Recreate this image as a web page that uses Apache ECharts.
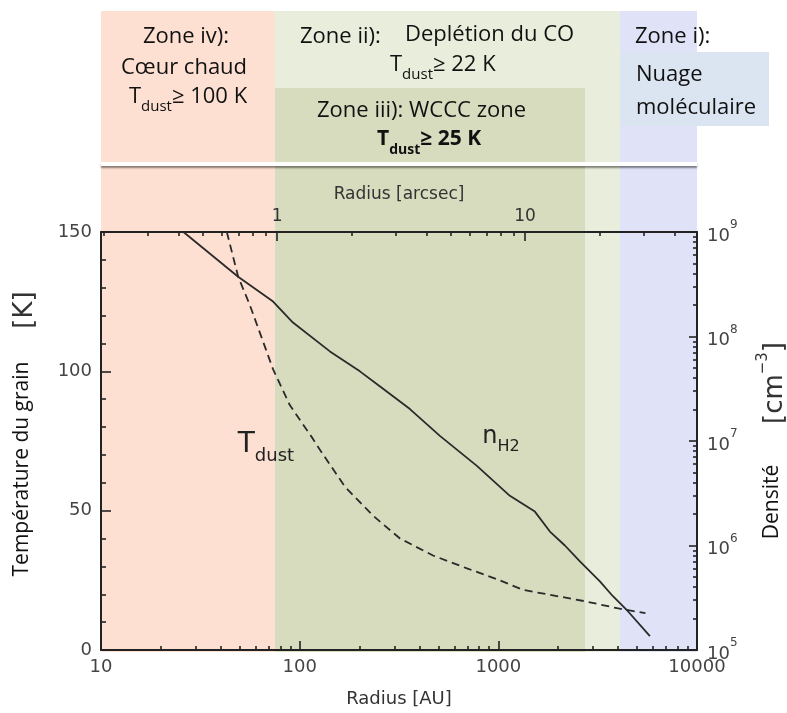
<!DOCTYPE html>
<html><head><meta charset="utf-8">
<script src="https://cdn.jsdelivr.net/npm/echarts@6/dist/echarts.min.js"></script>
<style>
html,body{margin:0;padding:0;background:#fff}
#wrap{position:relative;width:787px;height:713px}
#bg,#c{position:absolute;left:0;top:0;width:787px;height:713px}
</style>
</head><body><div id="wrap"><div id="bg"></div><div id="c"></div></div>
<script>
// ---- data ----
const radiusAU_n = [26, 49, 73.5, 92.5, 142, 201, 253, 359, 508, 780, 1143, 1527, 1818, 2163, 2574, 3245, 3773, 4489, 5794];
const nH2 = [1.0e9, 3.73e8, 2.16e8, 1.36e8, 7.2e7, 4.64e7, 3.34e7, 2.02e7, 1.12e7, 5.78e6, 2.99e6, 2.11e6, 1.36e6, 1.0e6, 7.04e5, 4.54e5, 3.27e5, 2.35e5, 1.36e5];
const radiusAU_T = [43, 49, 56, 73.5, 89, 115, 126, 169, 234, 320, 469, 695, 984, 1330, 1818, 2730, 3960, 5500];
const Tdust = [150, 134, 124, 100.7, 88, 76.4, 72, 58.6, 48.2, 40.0, 33.9, 29.3, 25.4, 21.6, 19.8, 17.5, 15.0, 13.2];
// zone boundaries in AU: iv | iii | ii | i
const zoneEdgesAU = [10, 75, 2730, 4090, 10000];
const zoneIIIheight = 0.652; // fraction of the header band covered by zone iii box
const whiteLineLevel = 0.312;
// label anchors (data coords)
const labelTdust = [67.6, 72.5];
const labelNH2 = [1030, 1.02e7];
// ticks
const auMajor = [10, 100, 1000, 10000];
const auMinor = [20,30,40,50,60,70,80,90,200,300,400,500,600,700,800,900,2000,3000,4000,5000,6000,7000,8000,9000];
const arcsecRange = [0.195, 49.4];
const arcsecMajor = [1, 10];
const arcsecMinor = [0.2,0.3,0.4,0.5,0.6,0.7,0.8,0.9,2,3,4,5,6,7,8,9,20,30,40];
const densMajor = [1e5, 1e6, 1e7, 1e8, 1e9];
const densMinor = [2e5,3e5,4e5,5e5,6e5,7e5,8e5,9e5,2e6,3e6,4e6,5e6,6e6,7e6,8e6,9e6,2e7,3e7,4e7,5e7,6e7,7e7,8e7,9e7,2e8,3e8,4e8,5e8,6e8,7e8,8e8,9e8];

const zoneColors = ['#fde0d1', '#e9eddb', '#d6dcbd', '#e0e2f7']; // iv, ii, iii, i
const colBox = '#dbe5f1';
// zone rectangles: [x0, x1, y0, y1, colourIndex]
const plotZones = [
  [zoneEdgesAU[0], zoneEdgesAU[1], 0, 150, 0],
  [zoneEdgesAU[1], zoneEdgesAU[3], 0, 150, 1],
  [zoneEdgesAU[1], zoneEdgesAU[2], 0, 150, 2],
  [zoneEdgesAU[3], zoneEdgesAU[4], 0, 150, 3]
];
const headerZones = [
  [zoneEdgesAU[0], zoneEdgesAU[1], 0, 1, 0],
  [zoneEdgesAU[1], zoneEdgesAU[3], 0, 1, 1],
  [zoneEdgesAU[1], zoneEdgesAU[2], 0, zoneIIIheight, 2],
  [zoneEdgesAU[3], zoneEdgesAU[4], 0, 1, 3]
];

const axisColor = '#222', labelColor = '#444';
const numFont = 'DejaVu Sans', textFont = 'Open Sans';
const grids = [
  { left: 101, right: 90, top: 232, bottom: 61 },
  { left: 101, right: 90, top: 11, height: 221 }
];

// ---------- background layer: the zone bands ----------
const bgChart = echarts.init(document.getElementById('bg'));
function zoneRender(params, api) {
  const p0 = api.coord([api.value(0), api.value(3)]);
  const p1 = api.coord([api.value(1), api.value(2)]);
  return { type: 'rect', shape: { x: p0[0], y: p0[1], width: p1[0] - p0[0], height: p1[1] - p0[1] },
           style: { fill: zoneColors[api.value(4)] } };
}
bgChart.setOption({
  animation: false,
  backgroundColor: '#fff',
  grid: grids,
  xAxis: [
    { gridIndex: 0, type: 'log', min: 10, max: 10000, show: false },
    { gridIndex: 1, type: 'log', min: 10, max: 10000, show: false }
  ],
  yAxis: [
    { gridIndex: 0, type: 'value', min: 0, max: 150, show: false },
    { gridIndex: 1, type: 'value', min: 0, max: 1, show: false }
  ],
  series: [
    { type: 'custom', xAxisIndex: 0, yAxisIndex: 0, silent: true, renderItem: zoneRender,
      encode: { x: [0, 1], y: [2, 3] }, data: plotZones },
    { type: 'custom', xAxisIndex: 1, yAxisIndex: 1, silent: true, renderItem: zoneRender,
      encode: { x: [0, 1], y: [2, 3] }, data: headerZones }
  ]
});

// ---------- foreground layer: axes, curves, text ----------
const chart = echarts.init(document.getElementById('c'));

function minorAxis(extra) {
  return Object.assign({
    gridIndex: 0, type: 'log',
    axisLine: { show: false, onZero: false },
    axisLabel: { show: false },
    splitLine: { show: false }
  }, extra);
}
function subText(main, sub, rest, size, bold) {
  const fw = bold ? 'bold' : 'normal';
  return {
    text: '{a|' + main + '}{s|' + sub + '}{a|' + rest + '}',
    rich: {
      a: { fontSize: size, fontFamily: textFont, fontWeight: fw, fill: '#111', lineHeight: 28, verticalAlign: 'top' },
      s: { fontSize: Math.round(size * 0.68), fontFamily: textFont, fontWeight: fw, fill: '#111', lineHeight: 16, verticalAlign: 'bottom' }
    }
  };
}
function txt(x, y, text, align, extra) {
  return { type: 'text', x: x, y: y, z: 50,
    style: Object.assign({ text: text, fill: '#111', fontSize: 22, fontFamily: textFont, align: align, verticalAlign: 'middle' }, extra || {}) };
}
function stxt(x, y, align, st) {
  return { type: 'text', x: x, y: y, z: 50,
    style: Object.assign({ align: align, verticalAlign: 'middle', fill: '#111' }, st) };
}

chart.setOption({
  animation: false,
  backgroundColor: 'transparent',
  grid: grids,
  xAxis: [
    { gridIndex: 0, type: 'log', min: 10, max: 10000, position: 'bottom',
      axisLine: { onZero: false, lineStyle: { color: axisColor, width: 2 } },
      axisTick: { show: true, inside: true, length: 9, customValues: auMajor, lineStyle: { color: axisColor, width: 1.6 } },
      axisLabel: { customValues: auMajor, formatter: v => String(Math.round(v)), color: labelColor, fontFamily: numFont, fontSize: 18, margin: 8 },
      splitLine: { show: false },
      name: 'Radius [AU]', nameLocation: 'middle', nameGap: 40,
      nameTextStyle: { color: '#333', fontFamily: numFont, fontSize: 18 } },
    minorAxis({ min: 10, max: 10000, position: 'bottom',
      axisTick: { show: true, inside: true, length: 4, customValues: auMinor, lineStyle: { color: axisColor, width: 1.6 } } }),
    { gridIndex: 0, type: 'log', min: arcsecRange[0], max: arcsecRange[1], position: 'top',
      axisLine: { onZero: false, lineStyle: { color: axisColor, width: 2 } },
      axisTick: { show: true, inside: true, length: 9, customValues: arcsecMajor, lineStyle: { color: axisColor, width: 1.6 } },
      axisLabel: { customValues: arcsecMajor, formatter: v => String(Math.round(v)), color: '#333', fontFamily: numFont, fontSize: 17, margin: 7 },
      splitLine: { show: false },
      name: 'Radius [arcsec]', nameLocation: 'middle', nameGap: 29,
      nameTextStyle: { color: '#333', fontFamily: numFont, fontSize: 17 } },
    minorAxis({ min: arcsecRange[0], max: arcsecRange[1], position: 'top',
      axisTick: { show: true, inside: true, length: 4, customValues: arcsecMinor, lineStyle: { color: axisColor, width: 1.6 } } }),
    { gridIndex: 1, type: 'log', min: 10, max: 10000, show: false }
  ],
  yAxis: [
    { gridIndex: 0, type: 'value', min: 0, max: 150, interval: 50,
      axisLine: { show: true, onZero: false, lineStyle: { color: axisColor, width: 2 } },
      axisTick: { show: true, inside: true, length: 10, lineStyle: { color: axisColor, width: 1.6 } },
      minorTick: { show: true, splitNumber: 5, length: 5, lineStyle: { color: axisColor, width: 1.6 } },
      axisLabel: { color: labelColor, fontFamily: numFont, fontSize: 18, margin: 9 },
      splitLine: { show: false } },
    { gridIndex: 0, type: 'log', min: 1e5, max: 1e9, position: 'right',
      axisLine: { show: true, onZero: false, lineStyle: { color: axisColor, width: 2 } },
      axisTick: { show: true, inside: true, length: 8, customValues: densMajor, lineStyle: { color: axisColor, width: 1.6 } },
      axisLabel: { customValues: densMajor, margin: 10,
        formatter: v => '{b|10}{s|' + Math.round(Math.log10(v)) + '}',
        rich: {
          b: { color: labelColor, fontFamily: numFont, fontSize: 18, lineHeight: 26, verticalAlign: 'bottom' },
          s: { color: labelColor, fontFamily: numFont, fontSize: 12, lineHeight: 14, verticalAlign: 'top' }
        } },
      splitLine: { show: false } },
    minorAxis({ min: 1e5, max: 1e9, position: 'right',
      axisTick: { show: true, inside: true, length: 4, customValues: densMinor, lineStyle: { color: axisColor, width: 1.6 } } }),
    { gridIndex: 1, type: 'value', min: 0, max: 1, show: false }
  ],
  series: [
    { type: 'line', name: 'header', xAxisIndex: 4, yAxisIndex: 3, data: [], silent: true,
      markLine: { silent: true, symbol: ['none', 'none'], label: { show: false },
        lineStyle: { color: '#ffffff', width: 4, type: 'solid', shadowColor: 'rgba(0,0,0,0.45)', shadowBlur: 2, shadowOffsetY: 2 },
        data: [{ yAxis: whiteLineLevel }] } },
    { type: 'line', name: 'nH2', xAxisIndex: 0, yAxisIndex: 1,
      data: radiusAU_n.map((r, i) => [r, nH2[i]]),
      showSymbol: false, symbol: 'none', smooth: false,
      lineStyle: { color: '#2a2a2a', width: 1.8 },
      markPoint: { symbol: 'circle', symbolSize: 1, itemStyle: { color: 'rgba(0,0,0,0)' },
        label: { show: true, position: 'inside', formatter: '{a|n}{s|H2}',
          rich: { a: { color: '#222', fontFamily: numFont, fontSize: 24, lineHeight: 30, verticalAlign: 'top' },
                  s: { color: '#222', fontFamily: numFont, fontSize: 16, lineHeight: 18, verticalAlign: 'bottom' } } },
        data: [{ coord: labelNH2 }] } },
    { type: 'line', name: 'Tdust', xAxisIndex: 0, yAxisIndex: 0,
      data: radiusAU_T.map((r, i) => [r, Tdust[i]]),
      showSymbol: false, symbol: 'none', smooth: false,
      lineStyle: { color: '#2a2a2a', width: 1.8, type: [8, 5] },
      markPoint: { symbol: 'circle', symbolSize: 1, itemStyle: { color: 'rgba(0,0,0,0)' },
        label: { show: true, position: 'inside', formatter: '{a|T}{s|dust}',
          rich: { a: { color: '#222', fontFamily: numFont, fontSize: 28, lineHeight: 34, verticalAlign: 'top' },
                  s: { color: '#222', fontFamily: numFont, fontSize: 18, lineHeight: 20, verticalAlign: 'bottom' } } },
        data: [{ coord: labelTdust }] } }
  ],
  graphic: [
    txt(186, 37, 'Zone iv):', 'center'),
    txt(184, 68, 'Cœur chaud', 'center'),
    stxt(188, 100, 'center', subText('T', 'dust', '≥ 100 K', 22, false)),
    txt(300, 37, 'Zone ii):', 'left'),
    txt(405, 35, 'Deplétion du CO', 'left'),
    stxt(390, 68, 'left', subText('T', 'dust', '≥ 22 K', 22, false)),
    txt(317, 111, 'Zone iii): WCCC zone', 'left'),
    stxt(377, 143, 'left', subText('T', 'dust', '≥ 25 K', 21, true)),
    txt(635, 37, 'Zone i):', 'left'),
    { type: 'rect', shape: { x: 620, y: 52, width: 149, height: 74 }, style: { fill: colBox }, z: 40 },
    txt(636, 75, 'Nuage', 'left'),
    txt(636, 108, 'moléculaire', 'left'),
    { type: 'text', x: 22, y: 469, rotation: Math.PI / 2, z: 50,
      style: { text: 'Température du grain', fill: '#111', fontSize: 21, fontFamily: textFont, align: 'center', verticalAlign: 'middle' } },
    { type: 'text', x: 25, y: 310, rotation: Math.PI / 2, z: 50,
      style: { text: '[K]', fill: '#333', fontSize: 26, fontFamily: numFont, align: 'center', verticalAlign: 'middle' } },
    { type: 'text', x: 772, y: 502, rotation: Math.PI / 2, z: 50,
      style: { text: 'Densité', fill: '#111', fontSize: 21, fontFamily: textFont, align: 'center', verticalAlign: 'middle' } },
    { type: 'text', x: 772, y: 383, rotation: Math.PI / 2, z: 50,
      style: { text: '{b|[cm}{s|−3}{b|]}', align: 'center', verticalAlign: 'middle',
        rich: { b: { fill: '#333', fontSize: 26, fontFamily: numFont, lineHeight: 32, verticalAlign: 'bottom' },
                s: { fill: '#333', fontSize: 15, fontFamily: numFont, lineHeight: 18, verticalAlign: 'top' } } } }
  ]
});
</script></body></html>
